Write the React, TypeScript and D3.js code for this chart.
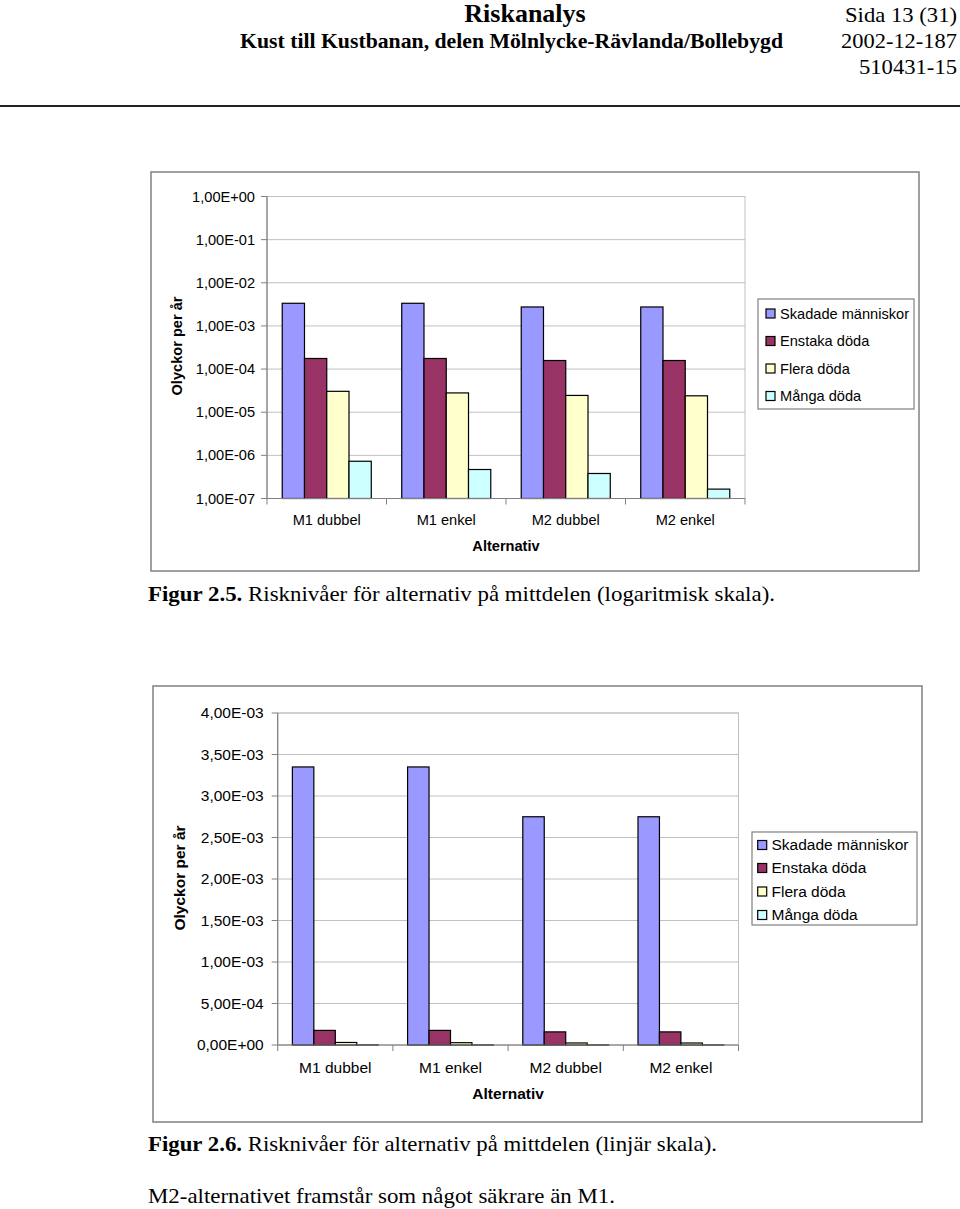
import { useEffect } from "react";
import * as d3 from "d3";

// data
const categories = ["M1 dubbel", "M1 enkel", "M2 dubbel", "M2 enkel"];
const seriesNames = ["Skadade människor", "Enstaka döda", "Flera döda", "Många döda"];
const seriesColors = ["#9999FF", "#993366", "#FFFFCC", "#CCFFFF"];
const skadade = [3.35e-3, 3.35e-3, 2.75e-3, 2.75e-3];
const enstaka = [1.76e-4, 1.76e-4, 1.58e-4, 1.58e-4];
const flera = [3.05e-5, 2.8e-5, 2.45e-5, 2.4e-5];
const manga = [7.3e-7, 4.7e-7, 3.8e-7, 1.65e-7];
const seriesValues = [skadade, enstaka, flera, manga];

const logTicks = [1e-7, 1e-6, 1e-5, 1e-4, 1e-3, 1e-2, 1e-1, 1];
const linTicks = [0, 5e-4, 1e-3, 1.5e-3, 2e-3, 2.5e-3, 3e-3, 3.5e-3, 4e-3];

const SANS = "'Liberation Sans', Arial, sans-serif";
const SERIF = "'Liberation Serif', 'Times New Roman', serif";

// Excel style: 1,00E-03
function fmtE(v: number) {
  if (v === 0) return "0,00E+00";
  const e = Math.floor(Math.log10(v) + 1e-9);
  const m = v / Math.pow(10, e);
  const sign = e < 0 ? "-" : "+";
  return `${m.toFixed(2).replace(".", ",")}E${sign}${String(Math.abs(e)).padStart(2, "0")}`;
}

interface ChartProps {
  frame: { x: number; y: number; w: number; h: number };
  plot: { left: number; right: number; top: number; bottom: number };
  y: d3.ScaleContinuousNumeric<number, number>;
  ticks: number[];
  base: number;
  fs: number;
  labelGap: number;
  yTitle: { x: number; y: number };
  xLabelY: number;
  xTitleY: number;
  legend: { x: number; y: number; w: number; h: number; sw: number; tx: number; rowY: number[] };
}

function BarChart({ frame, plot, y, ticks, base, fs, labelGap, yTitle, xLabelY, xTitleY, legend }: ChartProps) {
  const x0 = d3.scaleBand().domain(categories).range([plot.left, plot.right]).paddingInner(0.255).paddingOuter(0.1275);
  const x1 = d3.scaleBand().domain(seriesNames).range([0, x0.bandwidth()]);
  const step = x0.step();
  return (
    <g>
      <rect x={frame.x} y={frame.y} width={frame.w} height={frame.h} fill="#fff" stroke="#808080" strokeWidth={1.5} />
      {/* plot area border + gridlines */}
      <rect x={plot.left} y={plot.top} width={plot.right - plot.left} height={plot.bottom - plot.top} fill="none" stroke="#c0c0c0" strokeWidth={1} />
      {ticks.map((t) => (
        <g key={t}>
          <line x1={plot.left} x2={plot.right} y1={y(t)} y2={y(t)} stroke="#c0c0c0" strokeWidth={1} />
          <line x1={plot.left - 6} x2={plot.left} y1={y(t)} y2={y(t)} stroke="#808080" />
          <text x={plot.left - labelGap} y={y(t)} dy="0.35em" textAnchor="end" fontFamily={SANS} fontSize={fs} fill="#000">
            {fmtE(t)}
          </text>
        </g>
      ))}
      {seriesNames.map((s, si) =>
        categories.map((c, ci) => {
          const v = seriesValues[si][ci];
          const top = y(v);
          return (
            <rect
              key={s + c}
              x={(x0(c) as number) + (x1(s) as number)}
              y={top}
              width={x1.bandwidth()}
              height={Math.max(0, y(base) - top)}
              fill={seriesColors[si]}
              stroke="#000"
              strokeWidth={1.2}
            />
          );
        })
      )}
      <line x1={plot.left} x2={plot.left} y1={plot.top} y2={plot.bottom} stroke="#808080" strokeWidth={1.2} />
      <line x1={plot.left} x2={plot.right} y1={plot.bottom} y2={plot.bottom} stroke="#808080" strokeWidth={1.2} />
      {d3.range(categories.length + 1).map((i) => (
        <line key={i} x1={plot.left + i * step} x2={plot.left + i * step} y1={plot.bottom} y2={plot.bottom + 6} stroke="#808080" />
      ))}
      {categories.map((c) => (
        <text key={c} x={(x0(c) as number) + x0.bandwidth() / 2} y={xLabelY} dy="0.35em" textAnchor="middle" fontFamily={SANS} fontSize={fs}>
          {c}
        </text>
      ))}
      <text x={(plot.left + plot.right) / 2} y={xTitleY} dy="0.35em" textAnchor="middle" fontFamily={SANS} fontSize={fs} fontWeight="bold">
        Alternativ
      </text>
      <text transform={`translate(${yTitle.x},${yTitle.y}) rotate(-90)`} dy="0.35em" textAnchor="middle" fontFamily={SANS} fontSize={fs} fontWeight="bold">
        Olyckor per år
      </text>
      <rect x={legend.x} y={legend.y} width={legend.w} height={legend.h} fill="#fff" stroke="#808080" strokeWidth={1.2} />
      {seriesNames.map((s, i) => (
        <g key={s}>
          <rect x={legend.x + legend.sw} y={legend.rowY[i] - 4.5} width={9} height={9} fill={seriesColors[i]} stroke="#000" strokeWidth={1.2} />
          <text x={legend.x + legend.tx} y={legend.rowY[i]} dy="0.35em" fontFamily={SANS} fontSize={fs}>
            {s}
          </text>
        </g>
      ))}
    </g>
  );
}

export default function App() {
  useEffect(() => {
    document.body.style.margin = "0";
  }, []);

  const yLog = d3.scaleLog().domain([1e-7, 1]).range([498.5, 196.5]);
  const yLin = d3.scaleLinear().domain([0, 4e-3]).range([1045, 713]);

  return (
    <svg width={960} height={1209} style={{ display: "block", background: "#fff" }}>
      {/* page header */}
      <text x={525} y={22} textAnchor="middle" fontFamily={SERIF} fontSize={26} fontWeight="bold">
        Riskanalys
      </text>
      <text x={957} y={22} textAnchor="end" fontFamily={SERIF} fontSize={22} textLength={112} lengthAdjust="spacingAndGlyphs">
        Sida 13 (31)
      </text>
      <text x={240} y={48} fontFamily={SERIF} fontSize={21} fontWeight="bold" textLength={543} lengthAdjust="spacingAndGlyphs">
        Kust till Kustbanan, delen Mölnlycke-Rävlanda/Bollebygd
      </text>
      <text x={957} y={48} textAnchor="end" fontFamily={SERIF} fontSize={22} textLength={116} lengthAdjust="spacingAndGlyphs">
        2002-12-187
      </text>
      <text x={957} y={74} textAnchor="end" fontFamily={SERIF} fontSize={22} textLength={98} lengthAdjust="spacingAndGlyphs">
        510431-15
      </text>
      <line x1={0} x2={960} y1={106} y2={106} stroke="#222" strokeWidth={2} />

      <BarChart
        frame={{ x: 151, y: 172, w: 768, h: 399 }}
        plot={{ left: 267, right: 745, top: 196.5, bottom: 498.5 }}
        y={yLog}
        ticks={logTicks}
        base={1e-7}
        fs={14.6}
        labelGap={12}
        yTitle={{ x: 177, y: 346 }}
        xLabelY={520}
        xTitleY={546}
        legend={{ x: 758, y: 299, w: 156, h: 110, sw: 8, tx: 22, rowY: [313.5, 341, 368.5, 396] }}
      />
      <text x={148} y={601} fontFamily={SERIF} fontSize={22} textLength={627} lengthAdjust="spacingAndGlyphs">
        <tspan fontWeight="bold">Figur 2.5.</tspan> Risknivåer för alternativ på mittdelen (logaritmisk skala).
      </text>

      <BarChart
        frame={{ x: 153, y: 686, w: 769, h: 436 }}
        plot={{ left: 277.7, right: 738.5, top: 713, bottom: 1045 }}
        y={yLin}
        ticks={linTicks}
        base={0}
        fs={15.5}
        labelGap={14}
        yTitle={{ x: 180, y: 878 }}
        xLabelY={1068}
        xTitleY={1094}
        legend={{ x: 752, y: 832, w: 165, h: 93, sw: 5.7, tx: 19.5, rowY: [845, 868, 891.5, 915] }}
      />
      <text x={148} y={1151} fontFamily={SERIF} fontSize={22} textLength={569} lengthAdjust="spacingAndGlyphs">
        <tspan fontWeight="bold">Figur 2.6.</tspan> Risknivåer för alternativ på mittdelen (linjär skala).
      </text>
      <text x={148} y={1203} fontFamily={SERIF} fontSize={22} textLength={467} lengthAdjust="spacingAndGlyphs">
        M2-alternativet framstår som något säkrare än M1.
      </text>
    </svg>
  );
}
